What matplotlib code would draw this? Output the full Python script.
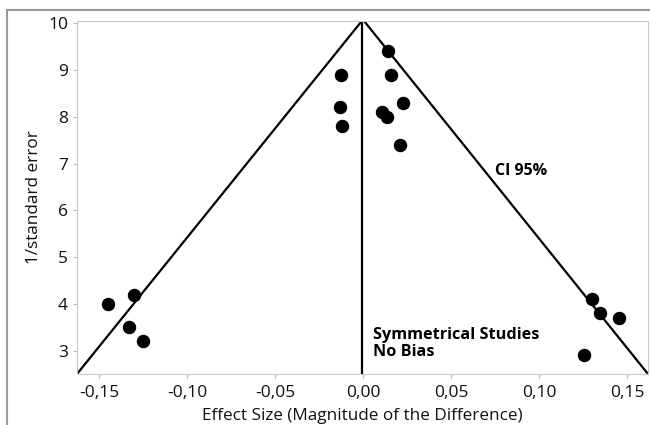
import matplotlib.pyplot as plt
from matplotlib.patches import Rectangle

# studies: effect size vs 1/standard error
effect = [-0.145, -0.130, -0.133, -0.125,
          -0.0127, -0.013, -0.012,
          0.014, 0.016, 0.023, 0.0106, 0.0139, 0.021,
          0.130, 0.1347, 0.1457, 0.1256]
inv_se = [4.0, 4.2, 3.5, 3.2,
          8.9, 8.2, 7.8,
          9.4, 8.9, 8.3, 8.1, 8.0, 7.4,
          4.1, 3.8, 3.7, 2.9]

funnel_x = [-0.1625, 0.0, 0.162]
funnel_y = [2.5, 10.08, 2.5]
xticks = [-0.15, -0.10, -0.05, 0.00, 0.05, 0.10, 0.15]
xticklabels = ['-0,15', '-0,10', '-0,05', '0,00', '0,05', '0,10', '0,15']
yticks = [3, 4, 5, 6, 7, 8, 9, 10]

plt.rcParams['font.family'] = ['Open Sans', 'DejaVu Sans']

fig = plt.figure(figsize=(6.5, 4.25), dpi=100)
ax = fig.add_axes([77 / 650, 1 - 374 / 425, (648 - 77) / 650, (374 - 21) / 425])

ax.plot(funnel_x, funnel_y, color='black', lw=1.6, zorder=2)
ax.plot([-0.0005, -0.0005], [2.5, 10.08], color='black', lw=1.6, zorder=2)
ax.scatter(effect, inv_se, s=75, color='black', zorder=3)

ax.text(0.075, 6.85, 'CI 95%', fontsize=11.5, fontweight='bold', va='center')
ax.text(0.0055, 3.15, 'Symmetrical Studies\nNo Bias', fontsize=11.7,
        fontweight='bold', va='center', linespacing=1.1)

ax.set_xlim(-0.1625, 0.162)
ax.set_ylim(2.5, 10.05)
ax.set_xticks(xticks)
ax.set_xticklabels(xticklabels)
ax.set_yticks(yticks)
ax.tick_params(labelsize=12.5, length=3, color='#bbbbbb', colors='#111111')
ax.tick_params(axis='x', pad=5)
for s in ax.spines.values():
    s.set_color('#c8c8c8')
ax.set_xlabel('Effect Size (Magnitude of the Difference)', fontsize=12.3,
              labelpad=5, color='#111111')
ax.set_ylabel('1/standard error', fontsize=12.3, labelpad=4, color='#111111')

# outer frame around the graph window
fig.patches.append(Rectangle((7 / 650, -0.05), 1.1, 1 - 10 / 425 + 0.05,
                             transform=fig.transFigure, fill=False,
                             edgecolor='#999999', lw=1.5))

fig.savefig('out.png', dpi=100)
